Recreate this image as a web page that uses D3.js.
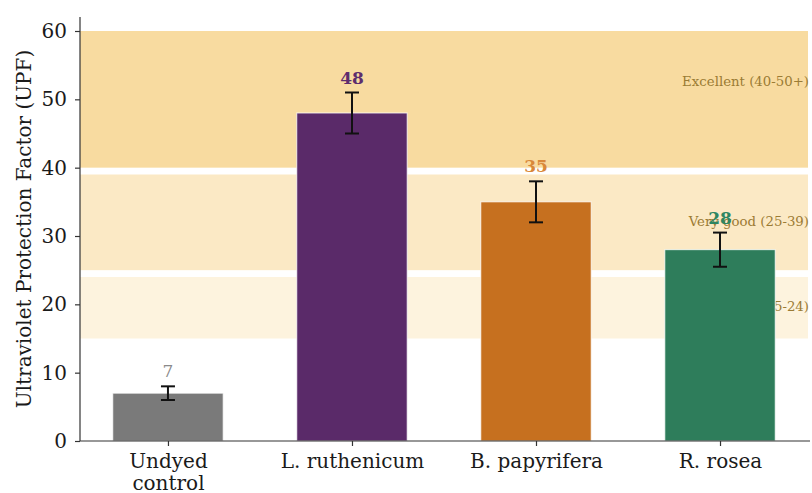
<!DOCTYPE html>
<html>
<head>
<meta charset="utf-8">
<script src="https://cdn.jsdelivr.net/npm/d3@7"></script>
<style>
  html, body { margin: 0; padding: 0; background: #fff; }
  svg { display: block; font-family: "DejaVu Serif", serif; }
</style>
</head>
<body>
<div id="chart"></div>
<script>
// Dye extracts and their measured UPF
const categories = ["Undyed\ncontrol", "L. ruthenicum", "B. papyrifera", "R. rosea"];
const upfValues = [7, 48, 35, 28];
const upfErrors = [1, 3, 3, 2.5];
const barColors = ["#7a7a7a", "#5a2a69", "#c6701f", "#2e7d5b"];
const labelColors = ["#8a8a8a", "#5e2d6e", "#d9883a", "#2e8662"];

// Protection rating bands (lower, upper)
const bandNames = ["Excellent (40-50+)", "Very good (25-39)", "Good (15-24)"];
const bandLow = [40, 25, 15];
const bandHigh = [65, 39, 24];
const bandFills = ["#f8dba0", "#fbe9c5", "#fdf3de"];

const yTicks = [0, 10, 20, 30, 40, 50, 60];

const W = 812, H = 493;
const svg = d3.select("#chart").append("svg").attr("width", W).attr("height", H);

const plot = { left: 80, right: 810, top: 17, bottom: 441 };

const y = d3.scaleLinear().domain([0, 60]).range([plot.bottom, 31]);
const x = d3.scaleLinear().domain([-0.478, 3.489]).range([plot.left, plot.right]);
const barW = 0.6 * (x(1) - x(0));

svg.append("defs").append("clipPath").attr("id", "clip")
  .append("rect").attr("x", plot.left).attr("y", y(60)).attr("width", plot.right - plot.left).attr("height", plot.bottom - y(60));

// rating bands
const bands = svg.append("g").attr("clip-path", "url(#clip)");
bandNames.forEach((name, i) => {
  bands.append("rect")
    .attr("x", plot.left).attr("width", plot.right - 2 - plot.left)
    .attr("y", y(bandHigh[i])).attr("height", y(bandLow[i]) - y(bandHigh[i]))
    .attr("fill", bandFills[i]);
});
bandNames.forEach((name, i) => {
  svg.append("text")
    .attr("x", plot.right - 1).attr("y", y((bandLow[i] + bandHigh[i]) / 2) - 1)
    .attr("text-anchor", "end").attr("dominant-baseline", "central")
    .attr("font-size", 13.3).attr("fill", "#9b7b34")
    .text(name);
});

// bars
svg.append("g").selectAll("rect").data(upfValues).join("rect")
  .attr("x", (d, i) => x(i) - barW / 2)
  .attr("width", barW)
  .attr("y", d => y(d))
  .attr("height", d => y(0) - y(d))
  .attr("fill", (d, i) => barColors[i])
  .attr("stroke", "#ffffff").attr("stroke-opacity", 0.8).attr("stroke-width", 1);

// error bars
const err = svg.append("g").attr("stroke", "#111").attr("stroke-width", 2);
upfValues.forEach((v, i) => {
  const cx = x(i);
  err.append("line").attr("x1", cx).attr("x2", cx).attr("y1", y(v - upfErrors[i])).attr("y2", y(v + upfErrors[i]));
  [v - upfErrors[i], v + upfErrors[i]].forEach(e => {
    err.append("line").attr("x1", cx - 7).attr("x2", cx + 7).attr("y1", y(e)).attr("y2", y(e));
  });
});

// value labels
svg.append("g").selectAll("text").data(upfValues).join("text")
  .attr("x", (d, i) => x(i))
  .attr("y", (d, i) => y(d + upfErrors[i]) - 9)
  .attr("text-anchor", "middle")
  .attr("font-size", 17)
  .attr("font-weight", (d, i) => i === 0 ? "normal" : "bold")
  .attr("fill", (d, i) => labelColors[i])
  .text(d => d);

// axes
const yAxis = svg.append("g").attr("transform", `translate(${plot.left},0)`)
  .call(d3.axisLeft(y).tickValues(yTicks).tickSize(5).tickPadding(8));
yAxis.select(".domain").attr("d", `M0,${plot.top}V${plot.bottom}`);
yAxis.selectAll("text").attr("font-size", 20).attr("fill", "#1a1a1a").attr("font-family", "DejaVu Serif");

const xAxis = svg.append("g").attr("transform", `translate(0,${plot.bottom})`)
  .call(d3.axisBottom(x).tickValues(d3.range(categories.length)).tickSize(5).tickPadding(8).tickFormat(() => ""));
xAxis.select(".domain").attr("d", `M${plot.left},0H${plot.right}`);
xAxis.selectAll(".tick").each(function (d) {
  const lines = categories[d].split("\n");
  const t = d3.select(this).select("text").attr("font-size", 20).attr("fill", "#1a1a1a").attr("font-family", "DejaVu Serif");
  lines.forEach((ln, k) => t.append("tspan").attr("x", 0).attr("dy", k === 0 ? "0.71em" : "1.1em").text(ln));
});
svg.selectAll(".domain, .tick line").attr("stroke", "#333").attr("stroke-width", 1.2);

// y axis title
svg.append("text")
  .attr("transform", `translate(31,${(plot.top + plot.bottom) / 2}) rotate(-90)`)
  .attr("text-anchor", "middle")
  .attr("font-size", 20).attr("fill", "#1a1a1a")
  .text("Ultraviolet Protection Factor (UPF)");
</script>
</body>
</html>
